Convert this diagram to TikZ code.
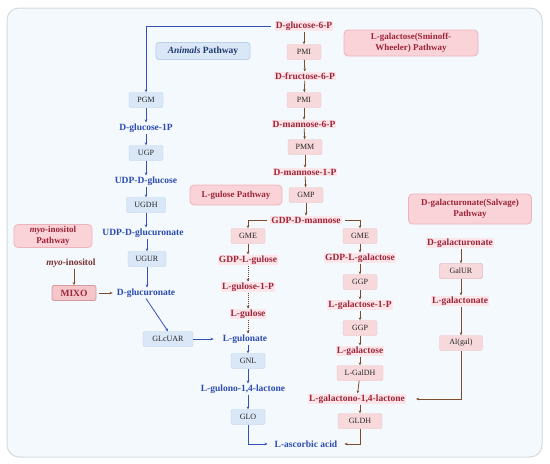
\documentclass[tikz,border=0pt]{standalone}
\usepackage{fontspec}
\setmainfont{Liberation Serif}
\usetikzlibrary{arrows.meta}
\definecolor{bgc}{HTML}{F4F9FD}
\definecolor{frame}{HTML}{D6DADE}
\definecolor{redt}{HTML}{9E2438}
\definecolor{redbg}{HTML}{FCE6EA}
\definecolor{bluet}{HTML}{2B4BB0}
\definecolor{bluel}{HTML}{3352B8}
\definecolor{brownl}{HTML}{7B4B2A}
\definecolor{renzf}{HTML}{F7D9DC}
\definecolor{renzd}{HTML}{EBBFC3}
\definecolor{benzf}{HTML}{D9E7F6}
\definecolor{benzd}{HTML}{BCD0EA}
\definecolor{pathf}{HTML}{F9D3D7}
\definecolor{pathd}{HTML}{EDB3B9}
\definecolor{navy}{HTML}{1F3A6E}
\definecolor{mixof}{HTML}{F4C6CA}
\definecolor{mixod}{HTML}{D49A9F}
\definecolor{myot}{HTML}{7A3030}
\tikzset{
  rmet/.style={font=\bfseries\fontsize{9.5}{11}\selectfont, text=redt, fill=redbg, inner sep=1pt},
  bmet/.style={font=\bfseries\fontsize{9.5}{11}\selectfont, text=bluet, inner sep=1pt},
  renz/.style={draw=renzd, fill=renzf, rounded corners=2pt, minimum width=34pt, minimum height=15pt, inner sep=1pt, font=\fontsize{8}{9}\selectfont, text=black!85},
  benz/.style={draw=benzd, fill=benzf, rounded corners=2pt, minimum width=34pt, minimum height=15pt, inner sep=1pt, font=\fontsize{8}{9}\selectfont, text=black!85},
  pathbox/.style={draw=pathd, fill=pathf, rounded corners=4pt, line width=0.8pt, align=center, font=\bfseries\fontsize{9}{10.5}\selectfont, text=redt, inner sep=2pt},
  rarr/.style={draw=brownl, line width=0.8pt, -{Stealth[length=3pt,width=2.6pt]}},
  barr/.style={draw=bluel, line width=0.8pt, -{Stealth[length=3pt,width=2.6pt]}},
  darr/.style={draw=brownl, line width=0.8pt, dash pattern=on 1pt off 1pt, -{Stealth[length=3pt,width=2.6pt]}},
}
\begin{document}
\begin{tikzpicture}[x=1pt,y=-1pt]
\useasboundingbox (0,0) rectangle (550,464);
\draw[frame, fill=bgc, line width=1pt, rounded corners=12pt] (7,8) rectangle (542,457);

% pathway labels
\node[pathbox, minimum width=134pt, minimum height=26pt] (pathSW) at (411,43) {L-galactose(Sminoff-\\Wheeler) Pathway};
\node[pathbox, minimum width=92pt, minimum height=20pt] (pathGul) at (236,195) {L-gulose Pathway};
\node[pathbox, minimum width=123pt, minimum height=30pt] (pathSalv) at (470,209) {D-galacturonate(Salvage)\\Pathway};
\node[pathbox, minimum width=78pt, minimum height=23pt] (pathMyo) at (53,236) {\textit{myo}-inositol\\Pathway};
\node[draw=benzd, fill=benzf, rounded corners=3pt, line width=0.8pt, minimum width=94pt, minimum height=17pt, inner sep=1pt, font=\bfseries\fontsize{9.5}{11}\selectfont, text=navy] (animals) at (203,51) {\textit{Animals} Pathway};

% central (red) column
\node[rmet] (g6p) at (304,26) {D-glucose-6-P};
\node[renz] (pmi1) at (304,52) {PMI};
\node[rmet] (f6p) at (305,76) {D-fructose-6-P};
\node[renz] (pmi2) at (304,100) {PMI};
\node[rmet] (m6p) at (304,124) {D-mannose-6-P};
\node[renz] (pmm) at (305,147) {PMM};
\node[rmet] (m1p) at (305,172) {D-mannose-1-P};
\node[renz] (gmp) at (306,195) {GMP};
\node[rmet] (gdpm) at (306,220) {GDP-D-mannose};

% L-gulose branch
\node[renz] (gme1) at (248,236) {GME};
\node[rmet] (gdplgul) at (248,260) {GDP-L-gulose};
\node[rmet] (lgul1p) at (248,287) {L-gulose-1-P};
\node[rmet] (lgul) at (248,314) {L-gulose};
\node[bmet] (lgulonate) at (245,339) {L-gulonate};
\node[benz] (gnl) at (248,361) {GNL};
\node[bmet] (lgulono) at (243,389) {L-gulono-1,4-lactone};
\node[benz] (glo) at (248,417) {GLO};
\node[bmet] (asc) at (306,444) {L-ascorbic acid};

% L-galactose branch
\node[renz] (gme2) at (360,236) {GME};
\node[rmet] (gdplgal) at (360,258) {GDP-L-galactose};
\node[renz] (ggp1) at (360,282) {GGP};
\node[rmet] (lgal1p) at (360,305) {L-galactose-1-P};
\node[renz] (ggp2) at (360,328) {GGP};
\node[rmet] (lgal) at (360,351) {L-galactose};
\node[renz, minimum width=46pt] (lgaldh) at (360,373) {L-GalDH};
\node[rmet] (lgalacto) at (357,399) {L-galactono-1,4-lactone};
\node[renz, minimum width=44pt] (gldh) at (360,421) {GLDH};

% salvage
\node[rmet] (dgalur) at (460,243) {D-galacturonate};
\node[renz, draw=mixod, minimum width=43pt] (galur) at (461,271) {GalUR};
\node[rmet] (lgalon) at (460,301) {L-galactonate};
\node[renz, minimum width=43pt] (algal) at (461,343) {Al(gal)};

% animals column
\node[benz] (pgm) at (146,100) {PGM};
\node[bmet] (g1p) at (146,128) {D-glucose-1P};
\node[benz] (ugp) at (146,153) {UGP};
\node[bmet] (udpg) at (146,181) {UDP-D-glucose};
\node[benz, minimum width=39pt] (ugdh) at (146,205) {UGDH};
\node[bmet] (udpgr) at (143,233) {UDP-D-glucuronate};
\node[benz, minimum width=38pt] (ugur) at (147,259) {UGUR};
\node[bmet] (dglcr) at (146,293) {D-glucuronate};
\node[benz, minimum width=50pt] (glcuar) at (168,339) {GLcUAR};

% myo-inositol
\node[font=\bfseries\fontsize{9.5}{11}\selectfont, text=myot, inner sep=1pt] (myo) at (71,263) {\textit{myo}-inositol};
\node[draw=mixod, fill=mixof, line width=0.8pt, rounded corners=2pt, minimum width=44pt, minimum height=15pt, inner sep=1pt, font=\bfseries\fontsize{9.5}{11}\selectfont, text=redt] (mixo) at (74,293) {MIXO};

% red arrows
\draw[rarr] (g6p) -- (pmi1);
\draw[rarr] (pmi1) -- (f6p);
\draw[rarr] (f6p) -- (pmi2);
\draw[rarr] (pmi2) -- (m6p);
\draw[rarr] (m6p) -- (pmm);
\draw[rarr] (pmm) -- (m1p);
\draw[rarr] (m1p) -- (gmp);
\draw[rarr] (gmp) -- (gdpm);
\draw[rarr, shorten <=3pt] (gdpm.west) -| (gme1.north);
\draw[rarr, shorten <=3pt] (gdpm.east) -| (gme2.north);
\draw[rarr] (gme1) -- (gdplgul);
\draw[darr] (gdplgul) -- (lgul1p);
\draw[darr] (lgul1p) -- (lgul);
\draw[darr] (lgul.south) -- (lgul.south |- lgulonate.north);
\draw[rarr] (gme2) -- (gdplgal);
\draw[rarr] (gdplgal) -- (ggp1);
\draw[rarr] (ggp1) -- (lgal1p);
\draw[rarr] (lgal1p) -- (ggp2);
\draw[rarr] (ggp2) -- (lgal);
\draw[rarr] (lgal) -- (lgaldh);
\draw[rarr] (lgaldh) -- (lgalacto);
\draw[rarr] (lgalacto.south -| gldh.north) -- (gldh.north);
\draw[rarr, shorten >=6pt] (gldh.south) |- (asc.east);
\draw[rarr] (dgalur.south -| galur.north) -- (galur.north);
\draw[rarr] (galur.south) -- (galur.south |- lgalon.north);
\draw[rarr] (lgalon.south -| algal.north) -- (algal.north);
\draw[rarr, shorten >=10pt] (algal.south) |- (lgalacto.east);
\draw[rarr] (myo.south -| mixo.north) -- (mixo.north);
\draw[rarr, shorten <=3pt, shorten >=3pt] (mixo.east) -- (dglcr.west);

% blue arrows
\draw[barr, shorten <=4pt] (g6p.west) -| (pgm.north);
\draw[barr] (pgm) -- (g1p);
\draw[barr] (g1p) -- (ugp);
\draw[barr] (ugp) -- (udpg);
\draw[barr] (udpg) -- (ugdh);
\draw[barr] (ugdh) -- (ugdh.south |- udpgr.north);
\draw[barr] (udpgr.south -| ugur.north) -- (ugur.north);
\draw[barr] (ugur) -- (ugur.south |- dglcr.north);
\draw[barr] (dglcr.south) -- (glcuar.north);
\draw[barr, shorten >=8pt] (glcuar.east) -- (lgulonate.west);
\draw[barr] (lgulonate.south -| gnl.north) -- (gnl.north);
\draw[barr] (gnl.south) -- (gnl.south |- lgulono.north);
\draw[barr] (lgulono.south -| glo.north) -- (glo.north);
\draw[barr, shorten >=6pt] (glo.south) |- (asc.west);
\end{tikzpicture}
\end{document}
